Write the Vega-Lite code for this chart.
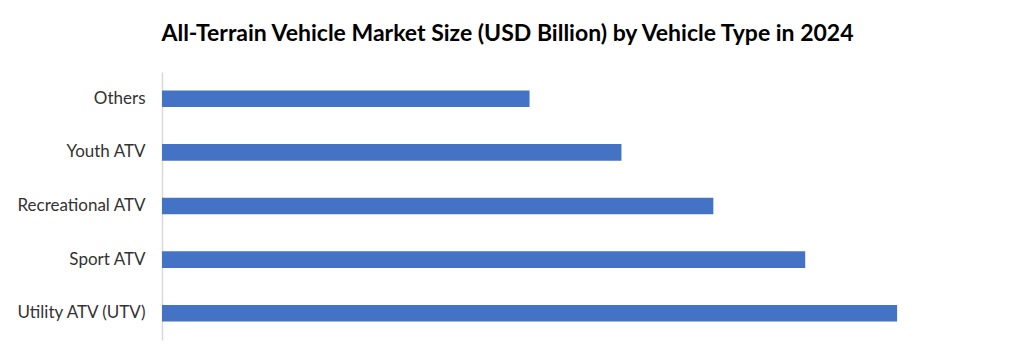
{
  "$schema": "https://vega.github.io/schema/vega-lite/v6.json",
  "width": 827,
  "height": 268,
  "autosize": {"type": "none"},
  "padding": {"left": 162, "top": 72, "right": 23, "bottom": 24},
  "background": "white",
  "title": {
    "text": "All-Terrain Vehicle Market Size (USD Billion) by Vehicle Type in 2024",
    "font": "Lato",
    "fontSize": 23,
    "fontWeight": "bold",
    "color": "#000000",
    "anchor": "middle",
    "dx": -68,
    "offset": 26
  },
  "data": {
    "values": [
      {"type": "Others", "value": 4},
      {"type": "Youth ATV", "value": 5},
      {"type": "Recreational ATV", "value": 6},
      {"type": "Sport ATV", "value": 7},
      {"type": "Utility ATV (UTV)", "value": 8}
    ]
  },
  "mark": {"type": "bar", "color": "#4472c4"},
  "encoding": {
    "y": {
      "field": "type",
      "type": "nominal",
      "sort": null,
      "scale": {"paddingInner": 0.69, "paddingOuter": 0.345},
      "axis": {
        "title": null,
        "ticks": false,
        "labelFont": "Lato",
        "labelFontSize": 17,
        "labelColor": "#333333",
        "labelPadding": 17,
        "domainColor": "#d9d9d9",
        "domainWidth": 1.5,
        "grid": false
      }
    },
    "x": {
      "field": "value",
      "type": "quantitative",
      "scale": {"domain": [0, 9], "nice": false},
      "axis": null
    }
  },
  "config": {"view": {"stroke": null}}
}
